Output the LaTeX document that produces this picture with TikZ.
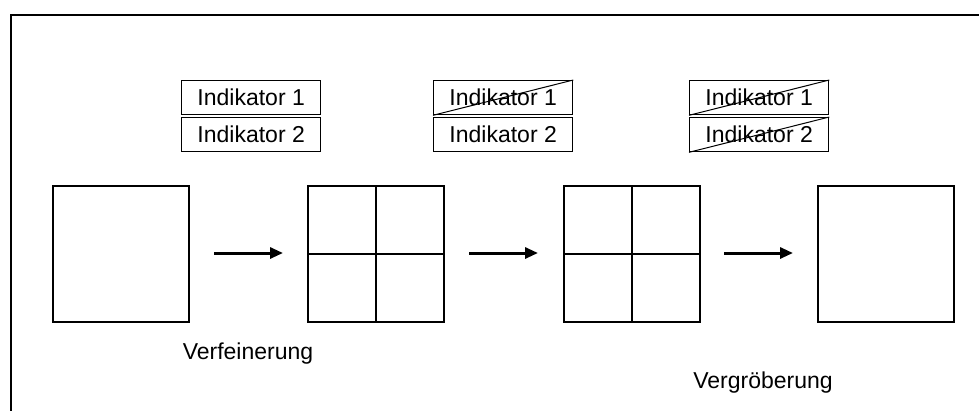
\documentclass[tikz,border=0pt]{standalone}
\usepackage{fontspec}
\setmainfont{Liberation Sans}
\usetikzlibrary{arrows.meta}
\begin{document}
\begin{tikzpicture}[x=1pt,y=-1pt,
  cell/.style={draw,line width=1.5pt,minimum width=136pt,minimum height=136pt,anchor=north west,inner sep=0pt},
  indbox/.style={draw,line width=1.3pt,minimum width=139pt,minimum height=34pt,anchor=north west,inner sep=0pt,font=\fontsize{23}{26}\selectfont},
  strike/.style={line width=1pt},
  stepArrow/.style={line width=3pt,-{Triangle[length=13pt,width=11pt]}},
  caption/.style={font=\fontsize{23}{26}\selectfont,anchor=base}]
\useasboundingbox (0,0) rectangle (979,410);
\fill[white] (0,0) rectangle (979,410);
% outer frame (only top and left are visible)
\draw[line width=2.5pt] (11,1000) -- (11,15) -- (1100,15);
% squares
\node[cell] (s1) at (52,185) {};
\node[cell] (s2) at (307,185) {};
\node[cell] (s3) at (563,185) {};
\node[cell] (s4) at (817,185) {};
\draw[line width=1.5pt] (s2.north) -- (s2.south) (s2.west) -- (s2.east);
\draw[line width=1.5pt] (s3.north) -- (s3.south) (s3.west) -- (s3.east);
% arrows
\coordinate (a1s) at (214,253); \coordinate (a1e) at (283,253);
\coordinate (a2s) at (469,253); \coordinate (a2e) at (538,253);
\coordinate (a3s) at (724,253); \coordinate (a3e) at (793,253);
\draw[stepArrow] (a1s) -- (a1e);
\draw[stepArrow] (a2s) -- (a2e);
\draw[stepArrow] (a3s) -- (a3e);
% indicator boxes
\node[indbox] (i1a) at (181,80) {Indikator 1};
\node[indbox] (i1b) at (181,117) {Indikator 2};
\node[indbox] (i2a) at (433,80) {Indikator 1};
\node[indbox] (i2b) at (433,117) {Indikator 2};
\node[indbox] (i3a) at (689,80) {Indikator 1};
\node[indbox] (i3b) at (689,117) {Indikator 2};
\draw[strike] (i2a.south west) -- (i2a.north east);
\draw[strike] (i3a.south west) -- (i3a.north east);
\draw[strike] (i3b.south west) -- (i3b.north east);
% captions
\node[caption] (c1) at (248,359) {Verfeinerung};
\node[caption] (c2) at (763,388) {Vergröberung};
\end{tikzpicture}
\end{document}
